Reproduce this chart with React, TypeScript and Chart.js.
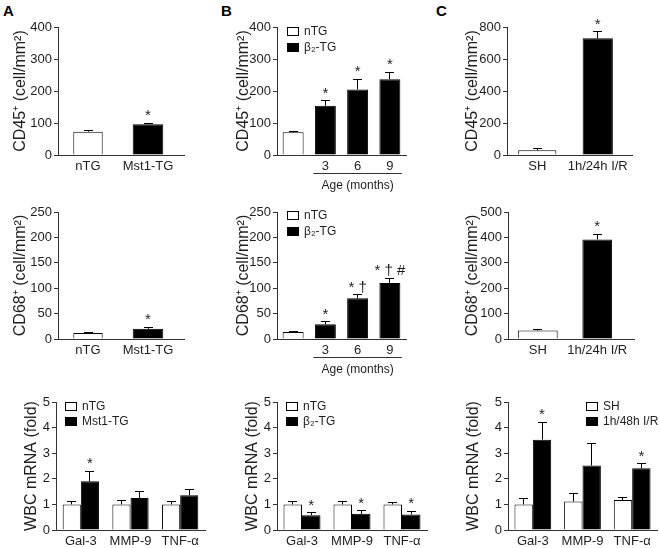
import React, { useEffect, useRef } from 'react';
import { Chart, registerables } from 'chart.js';
Chart.register(...registerables);

const FONT = '"Liberation Sans", Arial, Helvetica, sans-serif';
const INK = '#1e1e1e';
const AXIS = '#333333';
const WHITE = '#ffffff';
const BLACK = '#000000';

// ---------- Data ----------
const A_LABELS = ['nTG', 'Mst1-TG'];
const A_CD45 = [73, 96];
const A_CD45_ERR = [3, 4];
const A_CD45_SIG = ['', '*'];
const A_CD68 = [12, 20];
const A_CD68_ERR = [1.5, 3];
const A_CD68_SIG = ['', '*'];

const B_LABELS = ['', '3', '6', '9'];
const B_CD45 = [71, 154, 205, 237];
const B_CD45_ERR = [3, 16, 32, 22];
const B_CD45_SIG = ['', '*', '*', '*'];
const B_CD68 = [14, 29, 80, 110];
const B_CD68_ERR = [1, 5, 7, 10];
const B_CD68_SIG = ['', '*', '* †', '* † #'];

const C_LABELS = ['SH', '1h/24h I/R'];
const C_CD45 = [30, 729];
const C_CD45_ERR = [9, 42];
const C_CD45_SIG = ['', '*'];
const C_CD68 = [33, 392];
const C_CD68_ERR = [6, 20];
const C_CD68_SIG = ['', '*'];

const GENES = ['Gal-3', 'MMP-9', 'TNF-α'];
const A_WBC_NTG = [1, 1, 1];
const A_WBC_NTG_ERR = [0.12, 0.15, 0.1];
const A_WBC_TG = [1.9, 1.25, 1.36];
const A_WBC_TG_ERR = [0.4, 0.27, 0.21];
const A_WBC_SIG = ['*', '', ''];

const B_WBC_NTG = [1, 1, 1];
const B_WBC_NTG_ERR = [0.1, 0.1, 0.08];
const B_WBC_TG = [0.58, 0.63, 0.61];
const B_WBC_TG_ERR = [0.09, 0.13, 0.12];
const B_WBC_SIG = ['*', '*', '*'];

const C_WBC_SH = [1, 1.11, 1.17];
const C_WBC_SH_ERR = [0.25, 0.32, 0.1];
const C_WBC_IR = [3.53, 2.52, 2.41];
const C_WBC_IR_ERR = [0.68, 0.85, 0.18];
const C_WBC_SIG = ['*', '', '*'];

const NO_SIG = ['', '', ''];

// ---------- Helpers ----------
function splitSeries(labelA: string, labelB: string, values: number[], errs: number[], sig: string[], pctA: number, pctB: number) {
  return [
    { label: labelA, values: values.map((v, i) => (i === 0 ? v : null)), errors: errs, sig: sig.map((s, i) => (i === 0 ? s : '')), fill: WHITE, barPct: pctA },
    { label: labelB, values: values.map((v, i) => (i === 0 ? null : v)), errors: errs, sig: sig.map((s, i) => (i === 0 ? '' : s)), fill: BLACK, barPct: pctB },
  ];
}

const CD45_TITLE = 'CD45⁺ (cell/mm²)';
const CD68_TITLE = 'CD68⁺ (cell/mm²)';
const WBC_TITLE = 'WBC mRNA (fold)';

const PANELS: any[] = [
  {
    id: 'a1', labels: A_LABELS, series: splitSeries('nTG', 'Mst1-TG', A_CD45, A_CD45_ERR, A_CD45_SIG, 0.49, 0.51),
    grouped: false, catPct: 1, yMax: 400, yStep: 100, yTitle: CD45_TITLE,
    plot: { l: 58, t: 27, r: 178, b: 155 }, titleX: 21, baseExt: 7,
  },
  {
    id: 'b1', labels: B_LABELS, series: splitSeries('nTG', 'β₂-TG', B_CD45, B_CD45_ERR, B_CD45_SIG, 0.65, 0.65),
    grouped: false, catPct: 1, yMax: 400, yStep: 100, yTitle: CD45_TITLE,
    plot: { l: 277, t: 27, r: 406, b: 155 }, titleX: 244, legend: { dx: 10, dy: 0, gap: 16 }, age: 'Age (months)',
  },
  {
    id: 'c1', labels: C_LABELS, series: splitSeries('SH', '1h/24h I/R', C_CD45, C_CD45_ERR, C_CD45_SIG, 0.63, 0.5),
    grouped: false, catPct: 1, yMax: 800, yStep: 200, yTitle: CD45_TITLE,
    plot: { l: 507, t: 27, r: 628, b: 155 }, titleX: 473, baseExt: 5,
  },
  {
    id: 'a2', labels: A_LABELS, series: splitSeries('nTG', 'Mst1-TG', A_CD68, A_CD68_ERR, A_CD68_SIG, 0.49, 0.51),
    grouped: false, catPct: 1, yMax: 250, yStep: 50, yTitle: CD68_TITLE,
    plot: { l: 58, t: 212, r: 178, b: 339 }, titleX: 21, baseExt: 7,
  },
  {
    id: 'b2', labels: B_LABELS, series: splitSeries('nTG', 'β₂-TG', B_CD68, B_CD68_ERR, B_CD68_SIG, 0.65, 0.65),
    grouped: false, catPct: 1, yMax: 250, yStep: 50, yTitle: CD68_TITLE,
    plot: { l: 277, t: 212, r: 406, b: 339 }, titleX: 244, legend: { dx: 10, dy: -1, gap: 16 }, age: 'Age (months)',
  },
  {
    id: 'c2', labels: C_LABELS, series: splitSeries('SH', '1h/24h I/R', C_CD68, C_CD68_ERR, C_CD68_SIG, 0.67, 0.5),
    grouped: false, catPct: 1, yMax: 500, yStep: 100, yTitle: CD68_TITLE,
    plot: { l: 508, t: 212, r: 627, b: 339 }, titleX: 473, baseExt: 8,
  },
  {
    id: 'a3', labels: GENES,
    series: [
      { label: 'nTG', values: A_WBC_NTG, errors: A_WBC_NTG_ERR, sig: NO_SIG, fill: WHITE, barPct: 1 },
      { label: 'Mst1-TG', values: A_WBC_TG, errors: A_WBC_TG_ERR, sig: A_WBC_SIG, fill: BLACK, barPct: 1 },
    ],
    grouped: true, catPct: 0.73, yMax: 5, yStep: 1, yTitle: WBC_TITLE,
    plot: { l: 56, t: 402, r: 205, b: 530 }, titleX: 32, legend: { dx: 9, dy: 0, gap: 15 },
  },
  {
    id: 'b3', labels: GENES,
    series: [
      { label: 'nTG', values: B_WBC_NTG, errors: B_WBC_NTG_ERR, sig: NO_SIG, fill: WHITE, barPct: 1 },
      { label: 'β₂-TG', values: B_WBC_TG, errors: B_WBC_TG_ERR, sig: B_WBC_SIG, fill: BLACK, barPct: 1 },
    ],
    grouped: true, catPct: 0.74, yMax: 5, yStep: 1, yTitle: WBC_TITLE,
    plot: { l: 277, t: 402, r: 427, b: 530 }, titleX: 253, legend: { dx: 9, dy: 0, gap: 15 },
  },
  {
    id: 'c3', labels: GENES,
    series: [
      { label: 'SH', values: C_WBC_SH, errors: C_WBC_SH_ERR, sig: NO_SIG, fill: WHITE, barPct: 1 },
      { label: '1h/48h I/R', values: C_WBC_IR, errors: C_WBC_IR_ERR, sig: C_WBC_SIG, fill: BLACK, barPct: 1 },
    ],
    grouped: true, catPct: 0.74, yMax: 5, yStep: 1, yTitle: WBC_TITLE,
    plot: { l: 508, t: 402, r: 657, b: 530 }, titleX: 474, legend: { dx: 78, dy: 0, gap: 15 },
  },
];

// ---------- Plugin: error bars, significance marks, legend, annotations ----------
const decoPlugin = {
  id: 'deco',
  afterDatasetsDraw(chart: any, _args: any, opts: any) {
    const { ctx, chartArea } = chart;
    const ys = chart.scales.y;
    const xs = chart.scales.x;
    ctx.save();
    const by = Math.round(chartArea.bottom - 0.5) + 0.5;
    if (opts.baseExt) {
      ctx.strokeStyle = AXIS;
      ctx.lineWidth = 1;
      ctx.beginPath();
      ctx.moveTo(chartArea.right - 1, by);
      ctx.lineTo(chartArea.right + opts.baseExt, by);
      ctx.stroke();
    }
    chart.data.datasets.forEach((ds: any, di: number) => {
      const meta = chart.getDatasetMeta(di);
      meta.data.forEach((bar: any, i: number) => {
        const v = ds.data[i];
        if (v == null) return;
        const e = ds.errors ? ds.errors[i] || 0 : 0;
        const top = ys.getPixelForValue(v + e);
        const bx = Math.round(bar.x - 0.5) + 0.5;
        ctx.strokeStyle = '#000';
        ctx.lineWidth = 1;
        ctx.beginPath();
        ctx.moveTo(bx, bar.y);
        ctx.lineTo(bx, top);
        ctx.moveTo(bx - 4.5, Math.round(top - 0.5) + 0.5);
        ctx.lineTo(bx + 4.5, Math.round(top - 0.5) + 0.5);
        ctx.stroke();
        const s = ds.sig ? ds.sig[i] : '';
        if (s) {
          ctx.fillStyle = INK;
          ctx.font = `15px ${FONT}`;
          ctx.textAlign = 'center';
          ctx.textBaseline = 'alphabetic';
          ctx.fillText(s, bar.x, top - 3);
        }
      });
    });
    if (opts.legend) {
      const { dx, dy, gap } = opts.legend;
      chart.data.datasets.forEach((ds: any, k: number) => {
        const x0 = Math.round(chartArea.left + dx);
        const y0 = Math.round(chartArea.top + dy + k * gap);
        ctx.fillStyle = ds.backgroundColor;
        ctx.fillRect(x0, y0, 12, 9);
        ctx.strokeStyle = '#000';
        ctx.lineWidth = 1;
        ctx.strokeRect(x0 + 0.5, y0 + 0.5, 11, 8);
        ctx.fillStyle = INK;
        ctx.font = `12px ${FONT}`;
        ctx.textAlign = 'left';
        ctx.textBaseline = 'middle';
        ctx.fillText(ds.label, x0 + 17, y0 + 5);
      });
    }
    if (opts.age) {
      const x1 = xs.getPixelForValue(1) - 12;
      const x2 = xs.getPixelForValue(3) + 12;
      const ly = Math.round(chartArea.bottom + 18) + 0.5;
      ctx.strokeStyle = AXIS;
      ctx.lineWidth = 1;
      ctx.beginPath();
      ctx.moveTo(x1, ly);
      ctx.lineTo(x2, ly);
      ctx.stroke();
      ctx.fillStyle = INK;
      ctx.font = `12px ${FONT}`;
      ctx.textAlign = 'center';
      ctx.textBaseline = 'middle';
      ctx.fillText(opts.age, (x1 + x2) / 2, chartArea.bottom + 31);
    }
    ctx.restore();
  },
};

function Panel({ def }: { def: any }) {
  const ref = useRef<HTMLCanvasElement>(null);
  const { plot } = def;
  const cl = Math.round(def.titleX - 9.6);
  const ct = plot.t - 16;
  const cr = Math.min(660, plot.r + (def.baseExt || 0) + 12);
  const cb = plot.b + (def.age ? 42 : 26);
  const w = cr - cl;
  const h = cb - ct;

  useEffect(() => {
    const chart = new Chart(ref.current as HTMLCanvasElement, {
      type: 'bar',
      data: {
        labels: def.labels,
        datasets: def.series.map((s: any) => ({
          label: s.label,
          data: s.values,
          errors: s.errors,
          sig: s.sig,
          backgroundColor: s.fill,
          borderColor: '#000',
          borderWidth: 1,
          barPercentage: s.barPct,
          categoryPercentage: def.catPct,
          grouped: def.grouped,
        })),
      } as any,
      options: {
        responsive: false,
        animation: false,
        devicePixelRatio: 1,
        events: [],
        layout: { padding: { left: 0, top: plot.t - ct, right: cr - plot.r, bottom: 0 } },
        plugins: {
          legend: { display: false },
          tooltip: { enabled: false },
          deco: { baseExt: def.baseExt, legend: def.legend, age: def.age },
        } as any,
        scales: {
          x: {
            type: 'category',
            offset: true,
            grid: { display: false, drawTicks: false },
            border: { display: true, color: AXIS, width: 1 },
            ticks: { font: { family: FONT, size: 13 }, color: INK, padding: 4, maxRotation: 0, autoSkip: false },
            afterFit: (s: any) => { s.height = cb - plot.b; },
          },
          y: {
            min: 0,
            max: def.yMax,
            grid: { display: true, drawOnChartArea: false, drawTicks: true, tickLength: 4, color: AXIS },
            border: { display: true, color: AXIS, width: 1 },
            ticks: { stepSize: def.yStep, font: { family: FONT, size: 13 }, color: INK, padding: 2 },
            title: { display: true, text: def.yTitle, font: { family: FONT, size: 16 }, color: INK, padding: 0 },
            afterFit: (s: any) => { s.width = plot.l - cl; },
          },
        } as any,
      },
      plugins: [decoPlugin],
    });
    return () => chart.destroy();
  }, []);

  return (
    <canvas
      ref={ref}
      width={w}
      height={h}
      style={{ position: 'absolute', left: cl, top: ct, width: w, height: h }}
    />
  );
}

const LETTERS = [
  { text: 'A', left: 3 },
  { text: 'B', left: 221 },
  { text: 'C', left: 436 },
];

export default function App() {
  return (
    <div style={{ position: 'absolute', left: 0, top: 0, width: 660, height: 548, background: '#fff', overflow: 'hidden' }}>
      {LETTERS.map((l) => (
        <div
          key={l.text}
          style={{ position: 'absolute', left: l.left, top: 3, font: `bold 15px ${FONT}`, lineHeight: '15px', color: '#000' }}
        >
          {l.text}
        </div>
      ))}
      {PANELS.map((p) => (
        <Panel key={p.id} def={p} />
      ))}
    </div>
  );
}
